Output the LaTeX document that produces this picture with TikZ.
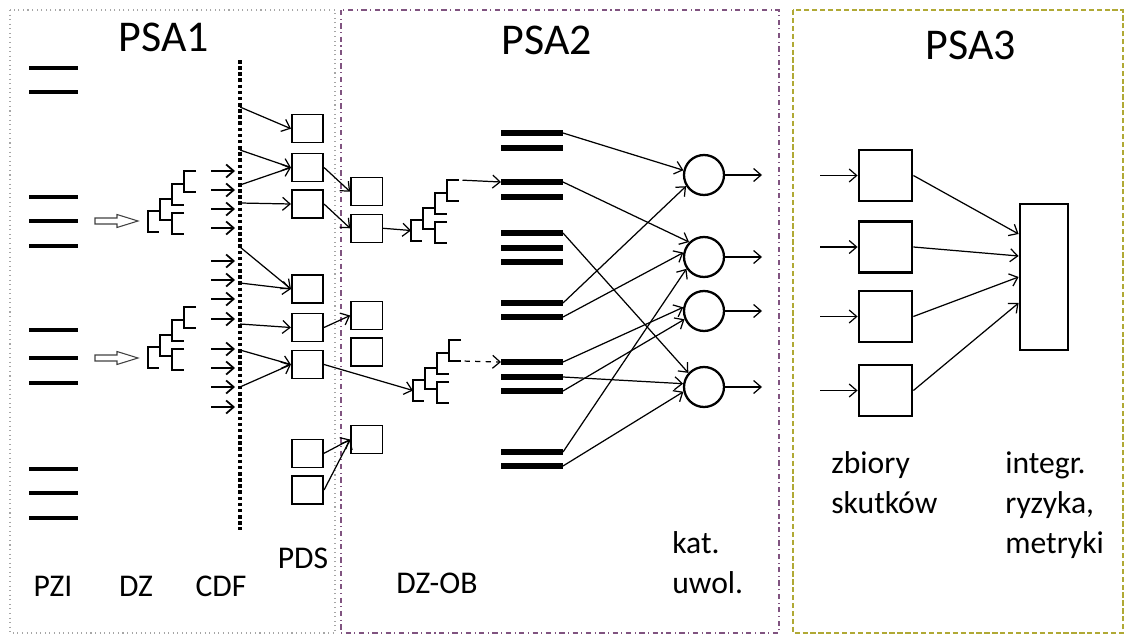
\documentclass[tikz,border=0pt]{standalone}
\usepackage{fontspec}
\setmainfont{Carlito}
\usepackage{tikz}
\usetikzlibrary{arrows.meta,calc}

\begin{document}
\begin{tikzpicture}[x=0.02cm,y=-0.02cm,>={Straight Barb[length=1.5mm,width=2.6mm]},
  title/.style={font=\fontsize{25}{30}\selectfont,inner sep=0},
  lbl/.style={font=\fontsize{18}{22.7}\selectfont,inner sep=0},
  pbox/.style={draw,line width=0.9pt,minimum width=0.63cm,minimum height=0.56cm,inner sep=0},
  sbox/.style={draw,line width=1.6pt,minimum width=1.06cm,minimum height=1.02cm,inner sep=0},
  rel/.style={draw,circle,line width=1.3pt,minimum size=0.8cm,inner sep=0},
  conn/.style={->,line width=0.7pt},
  dzbar/.style={line width=2.2pt},
  obbar/.style={line width=3.1pt},
  dztree/.pic={
    \draw[line width=0.8pt] (12,0) -- (0,0) -- (0,21) -- (11,21);
    \draw[line width=0.8pt] (24,-12) -- (12,-12) -- (12,9) -- (24,9);
    \draw[line width=0.8pt] (36,-27) -- (24,-27) -- (24,-6) -- (36,-6);
    \draw[line width=0.8pt] (36,2) -- (24,2) -- (24,23) -- (36,23);
    \draw[line width=0.8pt] (48,-40) -- (36,-40) -- (36,-19) -- (48,-19);
    \coordinate (-root) at (0,10.5);
    \coordinate (-a) at (48,-40);
    \coordinate (-b) at (48,-19);
  },
  hollowarrow/.pic={
    \draw[line width=0.6pt,draw=black!75] (0,-3) -- (22,-3) -- (22,-6.5) -- (43,0) -- (22,6.5) -- (22,3) -- (0,3) -- cycle;
  }]
\useasboundingbox (0,0) rectangle (1127,639);

% frames
\draw[gray!70,line width=0.6pt,dotted] (10,10) rectangle (335,633);
\draw[violet!35!gray,line width=0.6pt,dash dot] (341,10) rectangle (779,633);
\draw[olive!70,line width=0.6pt,dash pattern=on 3pt off 1.5pt] (793,10) rectangle (1123,633);

\node[title] (psa1) at (164,37) {PSA1};
\node[title] (psa2) at (547,40) {PSA2};
\node[title] (psa3) at (971,45) {PSA3};

% PSA1
\foreach \y in {68,92,197,221,246,330,358,383,469,493,518}
  \draw[dzbar] (29,\y) -- (78,\y);
\pic at (95,221) {hollowarrow};
\pic at (95,358) {hollowarrow};
\pic (t1) at (148,211) {dztree};
\pic (t2) at (148,347) {dztree};

\coordinate (cdftop) at (240,60);
\coordinate (cdfbot) at (240,530);
\draw[line width=2pt,dash pattern=on 2pt off 1.5pt] (cdftop) -- (cdfbot);
\foreach \y [count=\i] in {171,190,209,228,261,280,299,319,349,368,387,407} {
  \coordinate (cs\i) at (211,\y);
  \coordinate (ce\i) at (235,\y);
  \draw[->,line width=1pt] (cs\i) -- (ce\i);
}
\foreach \y [count=\i] in {107,150,185,203,247,283,324,350,387}
  \coordinate (x\i) at (240,\y);

\foreach \y [count=\i] in {128.7,167.5,204,289,327.5,364.5,453.3,490}
  \node[pbox] (p\i) at (307.5,\y) {};
\draw[conn] (x1) -- (p1.west);
\draw[conn] (x2) -- (p2.west);
\draw[conn] (x3) -- (p2.west);
\draw[conn] (x4) -- (p3.west);
\draw[conn] (x5) -- (p4.west);
\draw[conn] (x6) -- (p4.west);
\draw[conn] (x7) -- (p5.west);
\draw[conn] (x8) -- (p6.west);
\draw[conn] (x9) -- (p6.west);

\node[lbl] (pzi) at (53,586) {PZI};
\node[lbl] (dz) at (136,586) {DZ};
\node[lbl] (cdf) at (221,586) {CDF};
\node[lbl] (pds) at (303,558) {PDS};

% PSA2
\foreach \y [count=\i] in {191.7,228.3,315.5,352,439.5}
  \node[pbox] (q\i) at (366.7,\y) {};
\draw[conn] (p2.east) -- (q1.west);
\draw[conn] (p3.east) -- (q2.west);
\draw[conn] (p5.east) -- (q3.west);
\draw[conn] (p7.east) -- (q5.west);
\draw[conn] (p8.east) -- (q5.west);

\pic (t3) at (411,220) {dztree};
\pic (t4) at (413,380) {dztree};
\draw[conn] (q2.east) -- (t3-root);
\draw[conn] (p6.east) -- (t4-root);

\foreach \n/\y in {a1/133,a2/148,b1/182,b2/197,c1/233,c2/248,c3/262,d1/303,d2/317,e1/362,e2/377,e3/391,f1/452,f2/466}
  \draw[obbar] (501,\y) coordinate (\n w) -- (563,\y) coordinate (\n);
\draw[conn,shorten <=2pt] (t3-a) -- (b1w);
\draw[conn,dashed,shorten <=2pt] (t4-b) -- (e1w);

\node[rel] (k1) at (704,175) {};
\node[rel] (k2) at (704,257) {};
\node[rel] (k3) at (704,311) {};
\node[rel] (k4) at (704,387) {};
\draw[conn] (a1) -- (k1.167);
\draw[conn] (b1) -- (k2.135);
\draw[conn] (c1) -- (k4.138);
\draw[conn] (d1) -- (k1.212);
\draw[conn] (d2) -- (k2.168);
\draw[conn] (e1) -- (k3.170);
\draw[conn] (e2) -- (k4.171);
\draw[conn] (e3) -- (k3.203);
\draw[conn] (f1) -- (k2.214);
\draw[conn] (f2) -- (k4.193);
\foreach \y [count=\i] in {175,257,311,387} {
  \coordinate (o\i) at (762,\y);
  \draw[conn] (k\i) -- (o\i);
}

\node[lbl] (dzob) at (437,583) {DZ-OB};
\node[lbl,align=left,anchor=base west] (kat) at (672,593) {kat.\\uwol.};

% PSA3
\foreach \y [count=\i] in {175.5,247,316.5,390.5} {
  \node[sbox] (s\i) at (885.5,\y) {};
  \coordinate (i\i) at (820,\y);
  \draw[conn] (i\i) -- (s\i);
}
\node[draw,line width=1.6pt,minimum width=0.96cm,minimum height=2.92cm,inner sep=0] (m) at (1044,277) {};
\draw[conn] (s1.east) -- ($(m.west)+(0,-43)$);
\draw[conn] (s2.east) -- ($(m.west)+(0,-21)$);
\draw[conn] (s3.east) -- (m.west);
\draw[conn] (s4.east) -- ($(m.west)+(0,26)$);

\node[lbl,align=left,anchor=base west] (zb) at (831,513) {zbiory\\skutków};
\node[lbl,align=left,anchor=base west] (ig) at (1005,553) {integr.\\ryzyka,\\metryki};
\end{tikzpicture}
\end{document}
